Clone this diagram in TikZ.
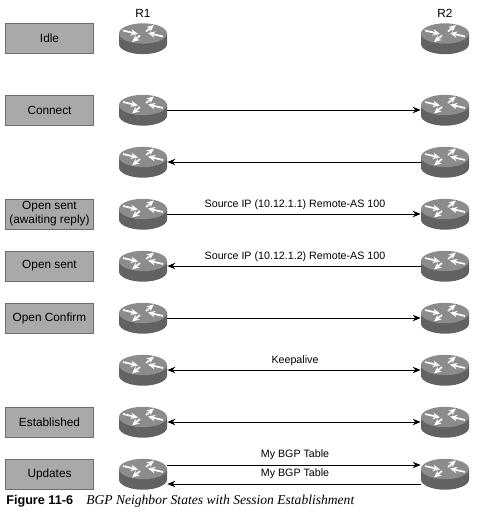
\documentclass[tikz,border=0pt]{standalone}
\usepackage{fontspec}
\setmainfont{Liberation Sans}
\newfontfamily\capserif{Liberation Serif}
\usetikzlibrary{arrows.meta, positioning}
\definecolor{boxfill}{HTML}{A9A9A9}
\definecolor{boxline}{HTML}{6E6E6E}
\definecolor{routertop}{HTML}{8C8C8C}
\definecolor{routerside}{HTML}{626262}
\begin{document}
\begin{tikzpicture}[
    x=0.025cm, y=-0.025cm,
    font=\fontsize{8.4pt}{10pt}\selectfont,
    kotak/.style={draw=boxline, line width=0.6pt, fill=boxfill, minimum height=0.75cm,
                  minimum width=2.2cm, align=center, inner sep=0pt},
    router/.style={minimum width=1.2cm, minimum height=0.78cm, inner sep=0pt, path picture={
        \fill[routerside] (-24,-5) -- (-24,5.5) arc[x radius=24, y radius=10.2, start angle=180, end angle=0]
            -- (24,-5) -- cycle;
        \fill[routertop] (0,-5) ellipse[x radius=24, y radius=10.2];
        \draw[white, line width=1.2pt, -{Stealth[length=1.8mm, width=1.6mm]}] (-20,-8) -- (-5,-4.5);
        \draw[white, line width=1.2pt, -{Stealth[length=1.8mm, width=1.6mm]}] (20,-2) -- (5,-5.5);
        \draw[white, line width=1.2pt, -{Stealth[length=1.8mm, width=1.6mm]}] (3,-7) -- (11,-13.5);
        \draw[white, line width=1.2pt, -{Stealth[length=1.8mm, width=1.6mm]}] (-3,-3) -- (-11,3.5);
    }},
    panah/.style={-{Stealth[length=2mm, width=1.6mm]}, line width=0.7pt},
    dobel/.style={{Stealth[length=2mm, width=1.6mm]}-{Stealth[length=2mm, width=1.6mm]}, line width=0.7pt},
    pesan/.style={font=\fontsize{7.6pt}{9pt}\selectfont, inner sep=0pt}
  ]
    \useasboundingbox (0,0) rectangle (477,513);

    % states on the left
    \node[kotak] (idle) at (49.5,38.5) {Idle};
    \node[kotak] (connect) at (49.5,110) {Connect};
    \node[kotak] (opensenta) at (49.5,214) {Open sent\\(awaiting reply)};
    \node[kotak] (opensentb) at (49.5,266) {Open sent};
    \node[kotak] (openconfirm) at (49.5,318) {Open Confirm};
    \node[kotak] (established) at (49.5,422) {Established};
    \node[kotak] (updates) at (49.5,474) {Updates};

    % one pair of routers per row
    \foreach \nama/\y in {a/38.5, b/110, c/162, d/214, e/266, f/318, g/370, h/422, i/474} {
      \node[router] (ra\nama) at (143,\y) {};
      \node[router] (rb\nama) at (445,\y) {};
    }
    \node (rsatu) at (143,13) {R1};
    \node (rdua) at (445,13) {R2};

    \draw[panah] (rab) -- (rbb);
    \draw[panah] (rbc) -- (rac);
    \draw[panah] (rad) -- (rbd);
    \draw[panah] (rbe) -- (rae);
    \draw[panah] (raf) -- (rbf);
    \draw[dobel] (rag) -- (rbg);
    \draw[dobel] (rah) -- (rbh);
    \draw[panah] ([yshift=0.225cm]rai.east) -- ([yshift=0.225cm]rbi.west);
    \draw[panah] ([yshift=-0.25cm]rbi.west) -- ([yshift=-0.25cm]rai.east);

    \node[pesan] (srcsatu) at (295,204.5) {Source IP (10.12.1.1) Remote-AS 100};
    \node[pesan] (srcdua) at (295,256.5) {Source IP (10.12.1.2) Remote-AS 100};
    \node[pesan] (keepalive) at (295,360.5) {Keepalive};
    \node[pesan] (tabelsatu) at (295,455) {My BGP Table};
    \node[pesan] (tabeldua) at (295,474) {My BGP Table};

    \node[anchor=west, inner sep=0pt, font=\fontsize{9pt}{10pt}\selectfont\bfseries] (figlabel) at (6,501.5) {Figure 11-6};
    \node[anchor=west, inner sep=0pt, font=\fontsize{9.65pt}{10pt}\capserif\itshape] (figjudul) at (86,501.5) {BGP Neighbor States with Session Establishment};
  \end{tikzpicture}
\end{document}
